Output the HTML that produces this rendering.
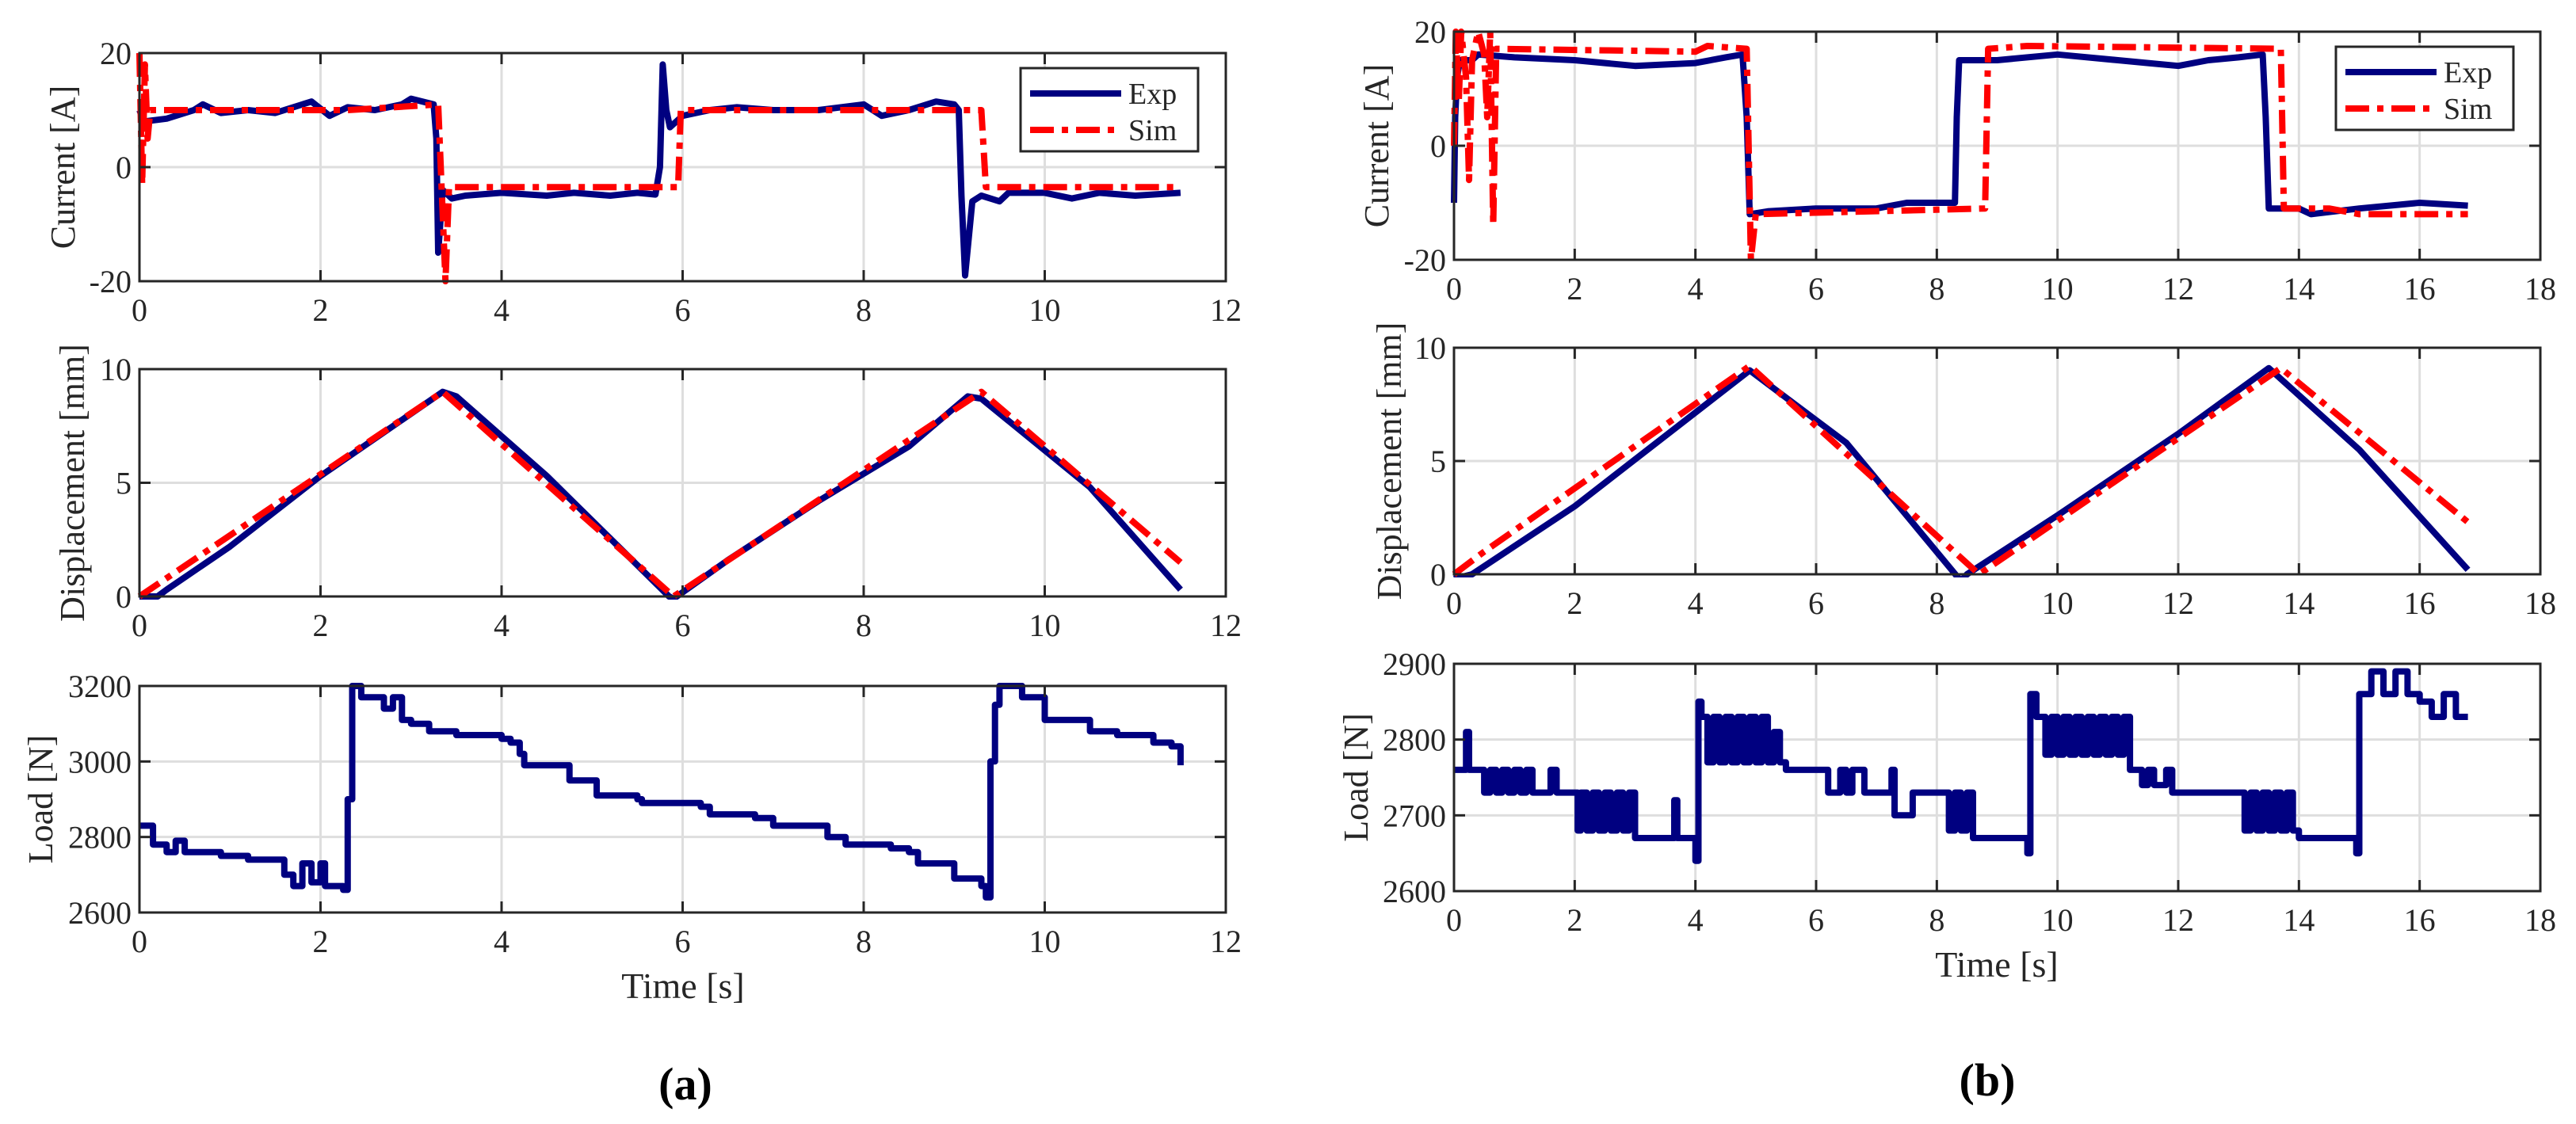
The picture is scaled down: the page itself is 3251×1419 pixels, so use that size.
<!DOCTYPE html>
<html><head><meta charset="utf-8"><style>
html,body{margin:0;padding:0;background:#fff;}
svg{display:block;font-family:"Liberation Serif",serif;}
</style></head><body>
<svg id="fig" width="3251" height="1419" viewBox="0 0 3251 1419"></svg>
<script>
// ---------- DATA ----------
const aCurExpT=[0,0.05,0.3,0.6,0.7,0.9,1.2,1.5,1.8,1.9,2.1,2.3,2.6,2.9,3.0,3.25,3.28,3.3,3.35,3.45,3.6,4,4.5,4.8,5.2,5.5,5.7,5.75,5.78,5.82,5.86,6.0,6.3,6.6,7,7.5,8,8.2,8.5,8.8,9.0,9.05,9.08,9.12,9.2,9.3,9.5,9.6,10,10.3,10.6,11,11.5];
const aCurExpV=[10,8,8.5,10,11,9.5,10,9.5,11,11.5,9,10.5,10,11,12,11,5,-15,-4,-5.5,-5,-4.5,-5,-4.5,-5,-4.5,-4.8,0,18,10,7,9,10,10.5,10,10,11,9,10,11.5,11,10,-5,-19,-6,-5,-6,-4.5,-4.5,-5.5,-4.5,-5,-4.5];
const aCurSimT=[0,0.03,0.06,0.09,0.12,2.3,3.3,3.38,3.42,5.95,5.98,9.3,9.35,11.5];
const aCurSimV=[20,-3,18,5,10,10,11,-20,-3.5,-3.5,10,10,-3.5,-3.5];
const aDisExpT=[0,0.2,0.3,1,2,3.35,3.5,4.5,5.85,5.9,6.5,7.5,8.5,9.15,9.3,10.5,11.5];
const aDisExpV=[0,0,0.3,2.2,5.3,9,8.8,5.3,0,-0.1,1.6,4.2,6.6,8.8,8.7,4.8,0.3];
const aDisSimT=[0,3.35,5.9,9.3,11.5];
const aDisSimV=[0,9,0,9,1.5];
const aLoadT=[0,0.15,0.3,0.4,0.5,0.8,0.9,1.2,1.5,1.6,1.7,1.8,1.9,2.0,2.05,2.25,2.3,2.35,2.45,2.6,2.7,2.8,2.9,3.0,3.2,3.5,4.0,4.1,4.2,4.25,4.75,5.0,5.05,5.5,5.55,6.2,6.3,6.8,7.0,7.5,7.6,7.8,8.3,8.5,8.6,8.9,9.0,9.3,9.35,9.4,9.45,9.5,9.75,9.9,10.0,10.5,10.8,11.2,11.4,11.5];
const aLoadV=[2830,2780,2760,2790,2760,2760,2750,2740,2740,2700,2670,2730,2680,2730,2670,2660,2900,3200,3170,3170,3140,3170,3110,3100,3080,3070,3060,3050,3020,2990,2950,2950,2910,2900,2890,2880,2860,2850,2830,2830,2800,2780,2770,2760,2730,2730,2690,2670,2640,3000,3150,3200,3170,3170,3110,3080,3070,3050,3040,2990];

const bCurExpT=[0,0.02,0.05,0.1,0.3,0.4,1,2,3,4,4.5,4.78,4.85,4.9,5.2,6,7,7.5,8.3,8.33,8.37,9,10,11,11.5,12,12.5,13,13.4,13.45,13.5,14,14.2,15,16,16.8];
const bCurExpV=[-10,5,12,15,15,16,15.5,15,14,14.5,15.5,16,5,-12,-11.5,-11,-11,-10,-10,5,15,15,16,15,14.5,14,15,15.5,16,5,-11,-11,-12,-11,-10,-10.5];
const bCurSimT=[0,0.03,0.08,0.12,0.2,0.25,0.3,0.4,0.5,0.55,0.6,0.65,0.7,4.0,4.2,4.85,4.92,5.0,8.8,8.85,9.5,13.7,13.75,14.5,15,16.8];
const bCurSimV=[0,20,8,20,12,-6,15,20,16,5,20,-14,17,16.5,17.5,17,-20,-12,-11,17,17.5,17,-11,-11,-12,-12];
const bDisExpT=[0,0.3,2,4.9,6.5,8.4,8.5,10,12,13.5,15,16.8];
const bDisExpV=[-0.2,0,3,9,5.8,-0.3,0,2.6,6.2,9.1,5.5,0.2];
const bDisSimT=[0,0.5,4.9,8.7,13.7,16.8];
const bDisSimV=[0,1,9.2,0,9.1,2.3];
const bLoadT=[0,0.2,0.25,0.5,0.6,0.7,0.8,0.9,1.0,1.1,
1.2,1.3,1.5,1.6,1.7,2.05,2.1,2.2,2.3,2.4,
2.5,2.6,2.7,2.8,2.9,3.0,3.6,3.65,3.7,4.0,
4.05,4.1,4.2,4.3,4.4,4.5,4.6,4.7,4.8,4.9,
5.0,5.1,5.2,5.3,5.4,5.5,6.1,6.2,6.4,6.5,
6.6,6.8,7.2,7.25,7.3,7.6,8.1,8.2,8.3,8.4,
8.5,8.6,9.4,9.5,9.55,9.65,9.8,9.9,10.0,10.1,
10.2,10.3,10.4,10.5,10.6,10.7,10.8,10.9,11.0,11.1,
11.2,11.4,11.5,11.6,11.8,11.9,12.1,13.0,13.1,13.2,
13.3,13.4,13.5,13.6,13.7,13.8,13.9,14.0,14.9,14.95,
15.0,15.2,15.4,15.6,15.8,16.0,16.2,16.4,16.6,16.8];
const bLoadV=[2760,2810,2760,2730,2760,2730,2760,2730,2760,2730,
2760,2730,2730,2760,2730,2680,2730,2680,2730,2680,
2730,2680,2730,2680,2730,2670,2670,2720,2670,2640,
2850,2830,2770,2830,2770,2830,2770,2830,2770,2830,
2770,2830,2770,2810,2770,2760,2760,2730,2760,2730,
2760,2730,2730,2760,2700,2730,2730,2680,2730,2680,
2730,2670,2670,2650,2860,2830,2780,2830,2780,2830,
2780,2830,2780,2830,2780,2830,2780,2830,2780,2830,
2760,2740,2760,2740,2760,2730,2730,2730,2680,2730,
2680,2730,2680,2730,2680,2730,2680,2670,2670,2650,
2860,2890,2860,2890,2860,2850,2830,2860,2830,2830];

const aXTicks=[0,2,4,6,8,10,12];
const bXTicks=[0,2,4,6,8,10,12,14,16,18];
const curTicks=[-20,0,20];
const disTicks=[0,5,10];
const aLoadTicks=[2600,2800,3000,3200];
const bLoadTicks=[2600,2700,2800,2900];

// ---------- DRAW ----------
const NS='http://www.w3.org/2000/svg';
const svg=document.getElementById('fig');
function mk(tag,attrs,parent){const e=document.createElementNS(NS,tag);for(const k in attrs)e.setAttribute(k,attrs[k]);(parent||svg).appendChild(e);return e;}
function txt(s,x,y,size,anchor,parent,extra){const t=mk('text',Object.assign({x:x,y:y,'font-size':size,'text-anchor':anchor||'middle',fill:'#262626'},extra||{}),parent);t.textContent=s;return t;}

function axes(cfg){
  const g=mk('g',{});
  
  
  const {x0,x1,y0,y1,xmin,xmax,ymin,ymax}=cfg;
  const sx=v=>x0+(v-xmin)/(xmax-xmin)*(x1-x0);
  const sy=v=>y1-(v-ymin)/(ymax-ymin)*(y1-y0);
  cfg.xticks.forEach(v=>{const X=sx(v);
    if(v!==xmin&&v!==xmax){const l=mk('line',{x1:X,x2:X,y1:y0,y2:y1,stroke:'#dedede','stroke-width':3},g);}
  });
  cfg.yticks.forEach(v=>{const Y=sy(v);
    if(v!==ymin&&v!==ymax){const l=mk('line',{x1:x0,x2:x1,y1:Y,y2:Y,stroke:'#dedede','stroke-width':3},g);}
  });
  const clipId='c'+cfg.name;
  const cp=mk('clipPath',{id:clipId},g);mk('rect',{x:x0-4,y:y0-4,width:x1-x0+8,height:y1-y0+8},cp);
  cfg.series.forEach(s=>{
    let d='';
    s.t.forEach((t,i)=>{
      const X=sx(t).toFixed(1),Y=sy(s.v[i]).toFixed(1);
      if(i===0)d+='M'+X+','+Y;
      else if(s.step)d+='H'+X+'V'+Y;
      else d+='L'+X+','+Y;
    });
    const p=mk('path',{d:d,fill:'none',stroke:s.color,'stroke-width':8,'stroke-linejoin':'round','clip-path':'url(#'+clipId+')'},g);
    if(s.dash)p.setAttribute('stroke-dasharray',s.dash);
    
    
  });
  const fr=mk('rect',{x:x0,y:y0,width:x1-x0,height:y1-y0,fill:'none',stroke:'#262626','stroke-width':3},g);
  
  cfg.xticks.forEach(v=>{const X=sx(v);
    mk('line',{x1:X,x2:X,y1:y1,y2:y1-14,stroke:'#262626','stroke-width':3},g);
    mk('line',{x1:X,x2:X,y1:y0,y2:y0+14,stroke:'#262626','stroke-width':3},g);
    const t=txt(String(v),X,y1+50,40,'middle',g);
  });
  cfg.yticks.forEach(v=>{const Y=sy(v);
    mk('line',{x1:x0,x2:x0+14,y1:Y,y2:Y,stroke:'#262626','stroke-width':3},g);
    mk('line',{x1:x1,x2:x1-14,y1:Y,y2:Y,stroke:'#262626','stroke-width':3},g);
    const t=txt(String(v),x0-10,Y+14,40,'end',g);
  });
  const yl=txt(cfg.ylabel,0,0,44,'middle',g,{transform:'translate('+cfg.ylx+','+((y0+y1)/2)+') rotate(-90)'});
  
  if(cfg.legend){
    const L=cfg.legend;const lg=mk('g',{},g);
    
    mk('rect',{x:L.x,y:L.y,width:224,height:105,fill:'#fff',stroke:'#262626','stroke-width':3},lg);
    const e1=mk('line',{x1:L.x+12,x2:L.x+127,y1:L.y+32,y2:L.y+32,stroke:'#000080','stroke-width':8},lg);
    
    txt('Exp',L.x+136,L.y+45,38,'start',lg);
    const e2=mk('line',{x1:L.x+12,x2:L.x+127,y1:L.y+78,y2:L.y+78,stroke:'#ff0000','stroke-width':8,'stroke-dasharray':'30,10,8,10'},lg);
    
    txt('Sim',L.x+136,L.y+91,38,'start',lg);
  }
}
const BLUE='#000080',RED='#ff0000',DASH='30,10,8,10';
// Panel a
axes({name:'a-current-plot',x0:176,x1:1547,y0:67,y1:355,xmin:0,xmax:12,ymin:-20,ymax:20,xticks:aXTicks,yticks:curTicks,ylabel:'Current  [A]',ylx:94,
  legend:{x:1288,y:86},series:[{t:aCurExpT,v:aCurExpV,color:BLUE,name:'exp-current-line'},{t:aCurSimT,v:aCurSimV,color:RED,dash:DASH,name:'sim-current-line'}]});
axes({name:'a-displacement-plot',x0:176,x1:1547,y0:466,y1:753,xmin:0,xmax:12,ymin:0,ymax:10,xticks:aXTicks,yticks:disTicks,ylabel:'Displacement  [mm]',ylx:106,
  series:[{t:aDisExpT,v:aDisExpV,color:BLUE,name:'exp-displacement-line'},{t:aDisSimT,v:aDisSimV,color:RED,dash:DASH,name:'sim-displacement-line'}]});
axes({name:'a-load-plot',x0:176,x1:1547,y0:866,y1:1152,xmin:0,xmax:12,ymin:2600,ymax:3200,xticks:aXTicks,yticks:aLoadTicks,ylabel:'Load  [N]',ylx:66,
  series:[{t:aLoadT,v:aLoadV,color:BLUE,step:true,name:'load-line'}]});
// Panel b
axes({name:'b-current-plot',x0:1835,x1:3206,y0:40,y1:328,xmin:0,xmax:18,ymin:-20,ymax:20,xticks:bXTicks,yticks:curTicks,ylabel:'Current  [A]',ylx:1752,
  legend:{x:2948,y:59},series:[{t:bCurExpT,v:bCurExpV,color:BLUE,name:'exp-current-line'},{t:bCurSimT,v:bCurSimV,color:RED,dash:DASH,name:'sim-current-line'}]});
axes({name:'b-displacement-plot',x0:1835,x1:3206,y0:439,y1:725,xmin:0,xmax:18,ymin:0,ymax:10,xticks:bXTicks,yticks:disTicks,ylabel:'Displacement  [mm]',ylx:1768,
  series:[{t:bDisExpT,v:bDisExpV,color:BLUE,name:'exp-displacement-line'},{t:bDisSimT,v:bDisSimV,color:RED,dash:DASH,name:'sim-displacement-line'}]});
axes({name:'b-load-plot',x0:1835,x1:3206,y0:838,y1:1125,xmin:0,xmax:18,ymin:2600,ymax:2900,xticks:bXTicks,yticks:bLoadTicks,ylabel:'Load  [N]',ylx:1726,
  series:[{t:bLoadT,v:bLoadV,color:BLUE,step:true,name:'load-line'}]});
// titles
let t;
t=txt('Time [s]',862,1260,46,'middle');
t=txt('Time [s]',2520,1233,46,'middle');
t=txt('(a)',865,1388,58,'middle',null,{'font-weight':'bold',fill:'#000'});
t=txt('(b)',2508,1383,58,'middle',null,{'font-weight':'bold',fill:'#000'});
</script>
</body></html>
